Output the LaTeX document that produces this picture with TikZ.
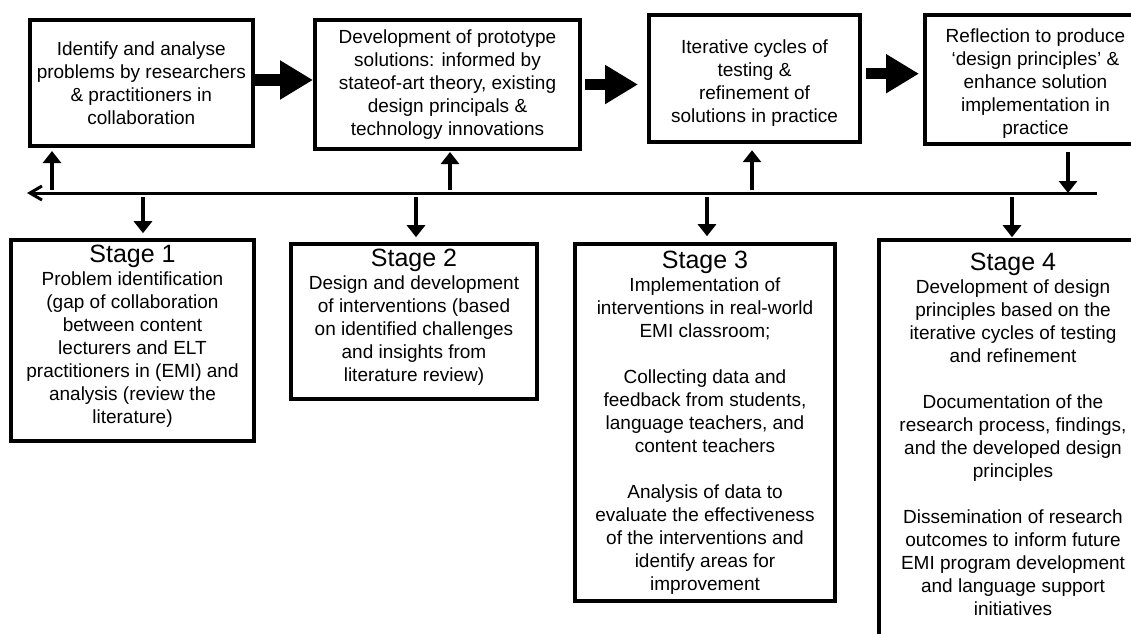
\documentclass[tikz,border=0pt]{standalone}
\usepackage{fontspec}
\setmainfont{Liberation Sans}
\usepackage{tikz}
\usetikzlibrary{arrows.meta, positioning, calc}
\newcommand{\stagehead}[1]{{\fontsize{25}{23}\selectfont #1}}
\newcommand{\lowstrut}[1]{\rule[-#1]{0pt}{#1}}
\newcommand{\highstrut}[1]{\rule{0pt}{#1}}

\begin{document}
\begin{tikzpicture}[x=1pt, y=-1pt,
    phase/.style={draw, line width=4pt, inner sep=0pt, align=center, font=\fontsize{19}{23}\selectfont},
    stagebox/.style={draw, line width=3.6pt, inner sep=0pt, align=center, font=\fontsize{19}{23}\selectfont},
    bigarrow/.style={line width=11.5pt, -{Triangle[width=37pt,length=33pt]}},
    smallarrow/.style={line width=4pt, -{Triangle[width=18pt,length=12pt]}},
    timeline/.style={line width=3pt, -{Straight Barb[width=14pt,length=12pt]}}]
    \useasboundingbox (0,0) rectangle (1131,633);
    \clip (0,0) rectangle (1131,633);
    % Top row of phases
    \node[phase, minimum width=223pt, minimum height=126pt] (ident) at (141.3,83)
        {Identify and analyse\\problems by researchers\\\& practitioners in\\collaboration};
    \node[phase, minimum width=265pt, minimum height=129pt] (proto) at (447.5,84.5)
        {Development of prototype\\solutions: informed by\\stateof-art theory, existing\\design principals \&\\technology innovations};
    \node[phase, minimum width=211pt, minimum height=127pt] (iter) at (754.5,78.7)
        {\highstrut{22pt}Iterative cycles of\\testing \&\\refinement of\\solutions in practice};
    \node[phase, minimum width=221pt, minimum height=129pt] (refl) at (1035.5,79.7)
        {\highstrut{22pt}Reflection to produce\\‘design principles’ \&\\enhance solution\\implementation in\\practice};
    \draw[bigarrow] ([yshift=3pt]ident.east) -- ([yshift=3pt]ident.east -| proto.west);
    \draw[bigarrow, shorten <=3pt, shorten >=9pt] (proto.east) -- (proto.east -| iter.west);
    \draw[bigarrow, shorten <=4pt, shorten >=4pt] ([yshift=5pt]iter.east) -- ([yshift=5pt]iter.east -| refl.west);
    % Timeline
    \coordinate (tlR) at (1097,193);
    \coordinate (tlL) at (27,193);
    \draw[timeline] (tlR) -- (tlL);
    \foreach \n/\x/\s in {ident/52/3, proto/450/1, iter/752/6} {
        \coordinate (up\n) at (\x,190);
        \draw[smallarrow, shorten >=\s pt] (up\n) -- (up\n |- \n.south);
    }
    \coordinate (dnrefl) at (1068,193);
    \draw[smallarrow, shorten <=6pt] (refl.south -| dnrefl) -- (dnrefl);
    % Stages
    \node[stagebox, minimum width=243pt, minimum height=201pt] (st1) at (132.5,340.5)
        {\stagehead{Stage 1}\\Problem identification\\(gap of collaboration\\between content\\lecturers and ELT\\practitioners in (EMI) and\\analysis (review the\\literature)\lowstrut{13pt}};
    \node[stagebox, minimum width=246pt, minimum height=155pt] (st2) at (414,321.5)
        {\stagehead{Stage 2}\\Design and development\\of interventions (based\\on identified challenges\\and insights from\\literature review)\lowstrut{13pt}};
    \node[stagebox, minimum width=260pt, minimum height=357pt] (st3) at (705,422.5)
        {\stagehead{Stage 3}\\Implementation of\\interventions in real-world\\EMI classroom;\\[23pt]Collecting data and\\feedback from students,\\language teachers, and\\content teachers\\[23pt]Analysis of data to\\evaluate the effectiveness\\of the interventions and\\identify areas for\\improvement};
    \node[stagebox, minimum width=268pt, minimum height=400pt] (st4) at (1013,440)
        {\stagehead{Stage 4}\\Development of design\\principles based on the\\iterative cycles of testing\\and refinement\\[23pt]Documentation of the\\research process, findings,\\and the developed design\\principles\\[23pt]Dissemination of research\\outcomes to inform future\\EMI program development\\and language support\\initiatives\lowstrut{11pt}};
    \foreach \n/\x/\s in {st1/143/5, st2/416/5, st3/707/6, st4/1012/1} {
        \coordinate (dn\n) at (\x,197);
        \draw[smallarrow, shorten >=\s pt] (dn\n) -- (dn\n |- \n.north);
    }
\end{tikzpicture}
\end{document}
